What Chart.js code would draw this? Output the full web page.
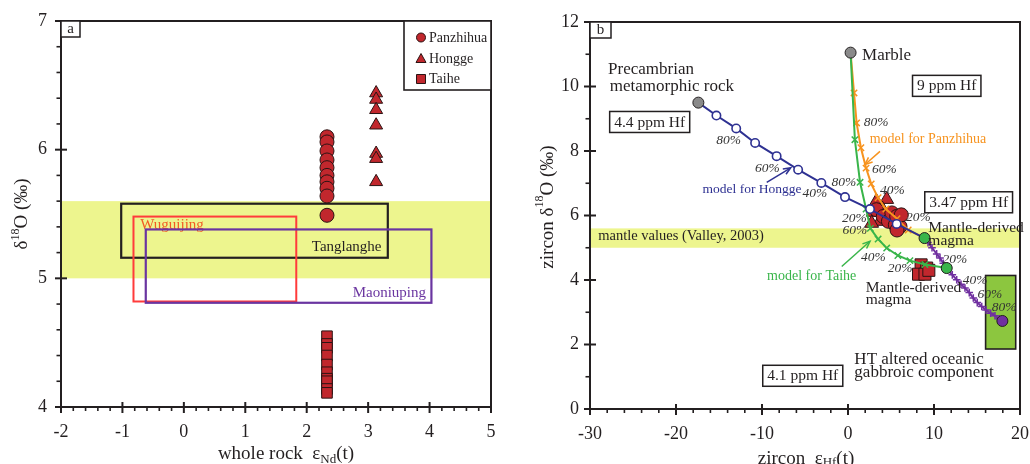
<!DOCTYPE html>
<html><head><meta charset="utf-8">
<script src="https://cdn.jsdelivr.net/npm/chart.js@4.4.1/dist/chart.umd.min.js"></script>
<style>
html,body{margin:0;padding:0;background:#fff;overflow:hidden;}
#ca{position:absolute;left:0;top:0;}
#cb{position:absolute;left:520px;top:0;}
</style></head><body>
<canvas id="ca" width="505" height="464"></canvas>
<canvas id="cb" width="510" height="464"></canvas>
<script>
// ================= Panel a data =================
const aXTicks = [-2, -1, 0, 1, 2, 3, 4, 5];
const aYTicks = [4, 5, 6, 7];
const aPanzhihuaX = [2.33, 2.33, 2.33, 2.33, 2.33, 2.33, 2.33, 2.33, 2.33, 2.33];
const aPanzhihuaY = [6.10, 6.06, 5.99, 5.92, 5.86, 5.80, 5.75, 5.70, 5.64, 5.49];
const aHonggeX = [3.13, 3.13, 3.13, 3.13, 3.13, 3.13, 3.13];
const aHonggeY = [6.44, 6.39, 6.31, 6.19, 5.97, 5.93, 5.75];
const aTaiheX = [2.33, 2.33, 2.33, 2.33, 2.33, 2.33, 2.33, 2.33, 2.33, 2.33];
const aTaiheY = [4.55, 4.49, 4.46, 4.40, 4.33, 4.27, 4.22, 4.20, 4.14, 4.11];
const aMantleBand = [5.0, 5.6];
// [x0, x1, y0, y1]
const aTanglangheBox = [-1.02, 3.32, 5.16, 5.58];
const aWuguijingBox = [-0.82, 1.83, 4.82, 5.48];
const aMaoniupingBox = [-0.62, 4.03, 4.81, 5.38];

// ================= Panel b data =================
const bXTicks = [-30, -20, -10, 0, 10, 20];
const bYTicks = [0, 2, 4, 6, 8, 10, 12];
const bMantleBand = [5.0, 5.6];
const bPanzhihuaX = [3.3, 4.1, 4.7, 5.1, 5.5, 5.66, 6.05, 6.2, 5.7];
const bPanzhihuaY = [6.18, 5.97, 5.82, 6.08, 5.71, 5.97, 5.66, 6.02, 5.55];
const bHonggeX = [3.3, 4.5, 2.95, 3.7, 2.75, 4.0];
const bHonggeY = [6.44, 6.50, 6.10, 5.82, 5.76, 6.20];
const bTaiheX = [8.5, 9.15, 8.2, 8.95, 9.4];
const bTaiheY = [4.47, 4.37, 4.18, 4.18, 4.30];
const bEndGrayX = [-17.4, 0.3];          // Precambrian rock, Marble
const bEndGrayY = [9.50, 11.05];
const bEndGreenX = [8.9, 11.48];         // Mantle-derived magma (two)
const bEndGreenY = [5.30, 4.37];
const bEndPurpleX = [17.95];             // HT altered gabbro
const bEndPurpleY = [2.73];
const bHonggeModelX = [-17.4, -15.3, -13.0, -10.8, -8.3, -5.8, -3.1, -0.35, 2.56, 5.66, 8.9];
const bHonggeModelY = [9.50, 9.10, 8.70, 8.25, 7.84, 7.42, 7.01, 6.57, 6.20, 5.74, 5.30];
const bPanzhihuaModelX = [0.3, 0.7, 1.0, 1.5, 2.1, 2.7, 3.5, 4.4, 5.7, 7.0, 8.9];
const bPanzhihuaModelY = [11.05, 9.80, 8.87, 8.10, 7.47, 6.98, 6.55, 6.20, 5.90, 5.55, 5.30];
const bTaiheModelX = [0.3, 0.8, 1.4, 2.1, 2.6, 3.5, 4.5, 5.8, 7.2, 8.95, 11.48];
const bTaiheModelY = [11.05, 8.35, 7.03, 6.20, 5.60, 5.27, 4.99, 4.76, 4.60, 4.48, 4.37];
const bGabbroModelX = [8.9, 9.3, 9.77, 10.31, 10.7, 11.08, 11.48, 12.13, 12.64, 13.14, 13.6, 14.1, 14.57, 15.03, 15.55, 16.05, 16.59, 17.09, 17.59, 17.95];
const bGabbroModelY = [5.30, 5.16, 5.00, 4.81, 4.68, 4.52, 4.37, 4.16, 4.01, 3.87, 3.75, 3.61, 3.44, 3.30, 3.18, 3.07, 2.97, 2.89, 2.80, 2.73];
const bHTBox = [16.0, 19.5, 1.86, 4.14];
const bPctText = ['80%', '60%', '40%', '20%'];
const bHonggePctX = [-13.87, -9.38, -3.84, 0.74];
const bHonggePctY = [8.32, 7.47, 6.67, 5.92];
const bPanzhihuaPctX = [3.26, 4.22, 5.15, 8.18];
const bPanzhihuaPctY = [8.90, 7.44, 6.78, 5.95];
const bTaihePctX = [-0.47, 0.81, 2.94, 6.05];
const bTaihePctY = [7.04, 5.53, 4.71, 4.37];
const bGabbroPctText = ['20%', '40%', '60%', '80%'];
const bGabbroPctX = [12.44, 14.77, 16.5, 18.14];
const bGabbroPctY = [4.65, 3.98, 3.54, 3.16];

// ================= styles =================
const SERIF = '"Liberation Serif","Times New Roman",serif';
const INK = '#231f20', RED = '#c1272d', EDGE = '#2a1414', BAND = '#edf58e';
const BLUE = '#2e3192', ORANGE = '#f7931e', GREEN = '#39b54a', PURPLE = '#7030a0';
const pts = (xs, ys) => xs.map((x, i) => ({x: x, y: ys[i]}));
const f = (s, style) => (style ? style + ' ' : '') + s + 'px ' + SERIF;

function drawRich(ctx, parts, x, y, align) {
  let w = 0;
  for (const p of parts) { ctx.font = p.font; w += ctx.measureText(p.t).width; }
  let cx = align === 'center' ? x - w / 2 : x;
  ctx.textAlign = 'left';
  for (const p of parts) { ctx.font = p.font; ctx.fillText(p.t, cx, y + (p.dy || 0)); cx += ctx.measureText(p.t).width; }
}
function txt(ctx, s, px, py, font, color, align, base) {
  ctx.font = font; ctx.fillStyle = color; ctx.textAlign = align || 'left';
  ctx.textBaseline = base || 'alphabetic'; ctx.fillText(s, px, py);
}
function drawTicks(ctx, ca, xs, ys, xMaj, xMin, yMaj, yMin) {
  ctx.strokeStyle = INK; ctx.lineCap = 'butt';
  const doAxis = (sc, maj, minStep, horiz) => {
    const n = Math.round((sc.max - sc.min) / minStep);
    for (let i = 0; i <= n; i++) {
      const v = sc.min + i * minStep;
      const isMaj = Math.abs(v / maj - Math.round(v / maj)) < 1e-6;
      const p = sc.getPixelForValue(v);
      ctx.lineWidth = isMaj ? 2 : 1.6;
      ctx.beginPath();
      if (horiz) {
        ctx.moveTo(p, ca.bottom - (isMaj ? 5 : 0)); ctx.lineTo(p, ca.bottom + (isMaj ? 6 : 4));
      } else {
        ctx.moveTo(ca.left - (isMaj ? 6 : 4.5), p); ctx.lineTo(ca.left + (isMaj ? 6 : 0), p);
      }
      ctx.stroke();
    }
  };
  doAxis(xs, xMaj, xMin, true);
  doAxis(ys, yMaj, yMin, false);
  ctx.lineWidth = 2; ctx.strokeRect(ca.left, ca.top, ca.right - ca.left, ca.bottom - ca.top);
}
function drawBox(ctx, xs, ys, b, color, lw, fill) {
  const x0 = xs.getPixelForValue(b[0]), x1 = xs.getPixelForValue(b[1]);
  const y0 = ys.getPixelForValue(b[3]), y1 = ys.getPixelForValue(b[2]);
  if (fill) { ctx.fillStyle = fill; ctx.fillRect(x0, y0, x1 - x0, y1 - y0); }
  ctx.strokeStyle = color; ctx.lineWidth = lw; ctx.strokeRect(x0, y0, x1 - x0, y1 - y0);
}
function panelTag(ctx, ca, letter, w) {
  ctx.fillStyle = '#fff'; ctx.fillRect(ca.left, ca.top, w, 16);
  ctx.strokeStyle = INK; ctx.lineWidth = 1.5; ctx.strokeRect(ca.left, ca.top, w, 16);
  txt(ctx, letter, ca.left + w / 2, ca.top + 8, f(15), INK, 'center', 'middle');
}
function scaleOpts(min, max, ticksArr, fit, horiz, pad) {
  return {
    type: 'linear', min: min, max: max,
    afterBuildTicks: s => { s.ticks = ticksArr.map(v => ({value: v})); },
    afterFit: s => {
      if (horiz) { s.height = fit; s.paddingLeft = 0; s.paddingRight = 0; }
      else { s.width = fit; s.paddingTop = 0; s.paddingBottom = 0; }
    },
    grid: {display: false, drawTicks: false}, border: {display: false},
    ticks: {font: {family: SERIF, size: 18}, color: INK, padding: pad, maxRotation: 0, autoSkip: false}
  };
}

// ================= Panel a =================
const panelA = {
  id: 'panelA',
  beforeDatasetsDraw(chart) {
    const {ctx, chartArea: ca} = chart; const xs = chart.scales.x, ys = chart.scales.y;
    ctx.save();
    const yt = ys.getPixelForValue(aMantleBand[1]), yb = ys.getPixelForValue(aMantleBand[0]);
    ctx.fillStyle = BAND; ctx.fillRect(ca.left, yt, ca.right - ca.left, yb - yt);
    drawBox(ctx, xs, ys, aTanglangheBox, INK, 2.2);
    txt(ctx, 'Tanglanghe', xs.getPixelForValue(2.65), ys.getPixelForValue(5.216), f(15), INK, 'center');
    drawBox(ctx, xs, ys, aWuguijingBox, '#ff3b3b', 2);
    txt(ctx, 'Wuguijing', xs.getPixelForValue(-0.71), ys.getPixelForValue(5.384), f(15), '#f15a24', 'left');
    drawBox(ctx, xs, ys, aMaoniupingBox, '#6a35a0', 2.2);
    txt(ctx, 'Maoniuping', xs.getPixelForValue(3.345), ys.getPixelForValue(4.858), f(15), '#6a35a0', 'center');
    ctx.restore();
  },
  afterDatasetsDraw(chart) {
    const {ctx, chartArea: ca} = chart; const xs = chart.scales.x, ys = chart.scales.y;
    ctx.save();
    drawTicks(ctx, ca, xs, ys, 1, 0.2, 1, 0.2);
    panelTag(ctx, ca, 'a', 19);
    // legend
    const lx = ca.right - 87, ly = ca.top;
    ctx.fillStyle = '#fff'; ctx.fillRect(lx, ly, 87, 69);
    ctx.strokeStyle = INK; ctx.lineWidth = 1.6; ctx.strokeRect(lx, ly, 87, 69);
    ctx.fillStyle = RED; ctx.strokeStyle = EDGE; ctx.lineWidth = 1;
    const mx = lx + 17;
    ctx.beginPath(); ctx.arc(mx, ly + 16.5, 4.5, 0, Math.PI * 2); ctx.fill(); ctx.stroke();
    ctx.beginPath(); ctx.moveTo(mx, ly + 32.5); ctx.lineTo(mx + 5, ly + 41.5); ctx.lineTo(mx - 5, ly + 41.5); ctx.closePath(); ctx.fill(); ctx.stroke();
    ctx.beginPath(); ctx.rect(mx - 4.5, ly + 53.5, 9, 9); ctx.fill(); ctx.stroke();
    txt(ctx, 'Panzhihua', mx + 8, ly + 21, f(14), INK, 'left');
    txt(ctx, 'Hongge', mx + 8, ly + 41.5, f(14), INK, 'left');
    txt(ctx, 'Taihe', mx + 8, ly + 62, f(14), INK, 'left');
    // axis titles
    ctx.fillStyle = INK;
    drawRich(ctx, [{t: 'whole rock  ε', font: f(19)}, {t: 'Nd', font: f(13), dy: 4}, {t: '(t)', font: f(19)}], 286, 459, 'center');
    ctx.translate(27, 214); ctx.rotate(-Math.PI / 2);
    drawRich(ctx, [{t: 'δ', font: f(19)}, {t: '18', font: f(12), dy: -8}, {t: 'O (‰)', font: f(19)}], 0, 0, 'center');
    ctx.restore();
  }
};

new Chart(document.getElementById('ca'), {
  type: 'scatter',
  data: {datasets: [
    {label: 'Panzhihua', data: pts(aPanzhihuaX, aPanzhihuaY), pointStyle: 'circle', pointRadius: 7, backgroundColor: RED, borderColor: EDGE, borderWidth: 1},
    {label: 'Hongge', data: pts(aHonggeX, aHonggeY), pointStyle: 'triangle', pointRadius: 7.5, backgroundColor: RED, borderColor: EDGE, borderWidth: 1},
    {label: 'Taihe', data: pts(aTaiheX, aTaiheY), pointStyle: 'rect', pointRadius: 7.5, backgroundColor: RED, borderColor: EDGE, borderWidth: 1}
  ]},
  options: {
    responsive: false, animation: false, devicePixelRatio: 1,
    layout: {padding: {left: 0, right: 14, top: 21, bottom: 0}},
    plugins: {legend: {display: false}, tooltip: {enabled: false}},
    scales: {x: scaleOpts(-2, 5, aXTicks, 57, true, 14), y: scaleOpts(4, 7, aYTicks, 61, false, 14)}
  },
  plugins: [panelA]
});

// ================= Panel b =================
function arrow(ctx, xs, ys, a, b, color) {
  const x0 = xs.getPixelForValue(a[0]), y0 = ys.getPixelForValue(a[1]);
  const x1 = xs.getPixelForValue(b[0]), y1 = ys.getPixelForValue(b[1]);
  const ang = Math.atan2(y1 - y0, x1 - x0);
  ctx.strokeStyle = color; ctx.lineWidth = 1.5;
  ctx.beginPath(); ctx.moveTo(x0, y0); ctx.lineTo(x1, y1); ctx.stroke();
  ctx.beginPath();
  ctx.moveTo(x1 - 8 * Math.cos(ang - 0.4), y1 - 8 * Math.sin(ang - 0.4));
  ctx.lineTo(x1, y1);
  ctx.lineTo(x1 - 8 * Math.cos(ang + 0.4), y1 - 8 * Math.sin(ang + 0.4));
  ctx.stroke();
}
function boxedLabel(ctx, xs, ys, s, xv, yv) {
  const px = xs.getPixelForValue(xv), py = ys.getPixelForValue(yv);
  ctx.font = f(15.5); const w = ctx.measureText(s).width + 9;
  ctx.fillStyle = '#fff'; ctx.fillRect(px - w / 2, py - 10.5, w, 21);
  ctx.strokeStyle = INK; ctx.lineWidth = 1.5; ctx.strokeRect(px - w / 2, py - 10.5, w, 21);
  txt(ctx, s, px, py + 0.5, f(15.5), INK, 'center', 'middle');
}
function pctLabels(ctx, xs, ys, labels, xv, yv) {
  for (let i = 0; i < labels.length; i++)
    txt(ctx, labels[i], xs.getPixelForValue(xv[i]), ys.getPixelForValue(yv[i]), f(13.5, 'italic'), '#333', 'center', 'middle');
}
const panelB = {
  id: 'panelB',
  beforeDatasetsDraw(chart) {
    const {ctx, chartArea: ca} = chart; const xs = chart.scales.x, ys = chart.scales.y;
    ctx.save();
    const yt = ys.getPixelForValue(bMantleBand[1]), yb = ys.getPixelForValue(bMantleBand[0]);
    ctx.fillStyle = BAND; ctx.fillRect(ca.left, yt, ca.right - ca.left, yb - yt);
    txt(ctx, 'mantle values (Valley, 2003)', xs.getPixelForValue(-29.05), ys.getPixelForValue(5.25), f(14.5), INK, 'left');
    drawBox(ctx, xs, ys, bHTBox, INK, 1.6, '#8cc63f');
    ctx.restore();
  },
  afterDatasetsDraw(chart) {
    const {ctx, chartArea: ca} = chart; const xs = chart.scales.x, ys = chart.scales.y;
    const X = v => xs.getPixelForValue(v), Y = v => ys.getPixelForValue(v);
    ctx.save();
    pctLabels(ctx, xs, ys, bPctText, bHonggePctX, bHonggePctY);
    pctLabels(ctx, xs, ys, bPctText, bPanzhihuaPctX, bPanzhihuaPctY);
    pctLabels(ctx, xs, ys, bPctText, bTaihePctX, bTaihePctY);
    pctLabels(ctx, xs, ys, bGabbroPctText, bGabbroPctX, bGabbroPctY);
    txt(ctx, 'Marble', X(1.63), Y(10.82), f(17), INK, 'left');
    txt(ctx, 'Precambrian', X(-27.9), Y(10.40), f(17), INK, 'left');
    txt(ctx, 'metamorphic rock', X(-27.7), Y(9.85), f(17), INK, 'left');
    txt(ctx, 'Mantle-derived', X(9.34), Y(5.49), f(15.5), INK, 'left');
    txt(ctx, 'magma', X(9.34), Y(5.10), f(15.5), INK, 'left');
    txt(ctx, 'Mantle-derived', X(2.06), Y(3.64), f(15.5), INK, 'left');
    txt(ctx, 'magma', X(2.06), Y(3.25), f(15.5), INK, 'left');
    txt(ctx, 'HT altered oceanic', X(0.74), Y(1.41), f(17), INK, 'left');
    txt(ctx, 'gabbroic component', X(0.74), Y(0.99), f(17), INK, 'left');
    txt(ctx, 'model for Hongge', X(-11.16), Y(6.71), f(13.5), BLUE, 'center');
    txt(ctx, 'model for Panzhihua', X(9.3), Y(8.26), f(14), ORANGE, 'center');
    txt(ctx, 'model for Taihe', X(-4.22), Y(4.0), f(14), GREEN, 'center');
    arrow(ctx, xs, ys, [-9.45, 7.03], [-6.66, 7.48], BLUE);
    arrow(ctx, xs, ys, [3.72, 7.99], [1.98, 7.58], ORANGE);
    arrow(ctx, xs, ys, [-0.73, 4.42], [2.56, 5.2], GREEN);
    boxedLabel(ctx, xs, ys, '9 ppm Hf', 11.48, 10.02);
    boxedLabel(ctx, xs, ys, '4.4 ppm Hf', -23.06, 8.9);
    boxedLabel(ctx, xs, ys, '3.47 ppm Hf', 14.03, 6.41);
    boxedLabel(ctx, xs, ys, '4.1 ppm Hf', -5.26, 1.03);
    drawTicks(ctx, ca, xs, ys, 10, 2, 2, 1);
    panelTag(ctx, ca, 'b', 21);
    ctx.fillStyle = INK;
    drawRich(ctx, [{t: 'zircon  ε', font: f(19)}, {t: 'Hf', font: f(13), dy: 4}, {t: '(t)', font: f(19)}], 806 - 520, 459, 'center');
    ctx.translate(548 - 520, 207); ctx.rotate(-Math.PI / 2);
    drawRich(ctx, [{t: 'zircon δ', font: f(19)}, {t: '18', font: f(12), dy: -8}, {t: 'O (‰)', font: f(19)}], 0, 0, 'center');
    ctx.restore();
  }
};

const endR = (n) => Array.from({length: n}, (_, i) => (i === 0 || i === n - 1) ? 0 : 4.5);
new Chart(document.getElementById('cb'), {
  type: 'scatter',
  data: {datasets: [
    {label: 'Taihe', data: pts(bTaiheX, bTaiheY), pointStyle: 'rect', pointRadius: 8.5, backgroundColor: RED, borderColor: EDGE, borderWidth: 1, order: 12},
    {label: 'Hongge', data: pts(bHonggeX, bHonggeY), pointStyle: 'triangle', pointRadius: 8, backgroundColor: RED, borderColor: EDGE, borderWidth: 1, order: 11},
    {label: 'Panzhihua', data: pts(bPanzhihuaX, bPanzhihuaY), pointStyle: 'circle', pointRadius: 7, backgroundColor: RED, borderColor: EDGE, borderWidth: 1, order: 10},
    {label: 'gabbro mixing', data: pts(bGabbroModelX, bGabbroModelY), showLine: true, borderColor: PURPLE, borderWidth: 2,
      pointStyle: 'cross', pointRadius: bGabbroModelX.map((v, i) => (i === 0 || i === 6 || i === bGabbroModelX.length - 1) ? 0 : 3.8),
      pointBorderColor: PURPLE, pointBorderWidth: 1.5, order: 7},
    {label: 'model for Panzhihua', data: pts(bPanzhihuaModelX, bPanzhihuaModelY), showLine: true, borderColor: ORANGE, borderWidth: 2,
      pointStyle: 'crossRot', pointRadius: endR(bPanzhihuaModelX.length), pointBorderColor: ORANGE, pointBorderWidth: 1.5, order: 6},
    {label: 'model for Taihe', data: pts(bTaiheModelX, bTaiheModelY), showLine: true, borderColor: GREEN, borderWidth: 2,
      pointStyle: 'crossRot', pointRadius: endR(bTaiheModelX.length), pointBorderColor: GREEN, pointBorderWidth: 1.5, order: 5},
    {label: 'model for Hongge', data: pts(bHonggeModelX, bHonggeModelY), showLine: true, borderColor: BLUE, borderWidth: 2,
      pointStyle: 'circle', pointRadius: endR(bHonggeModelX.length).map(r => r ? 4.2 : 0), pointBackgroundColor: '#fff',
      pointBorderColor: BLUE, pointBorderWidth: 1.6, order: 4},
    {label: 'end gray', data: pts(bEndGrayX, bEndGrayY), pointRadius: 5.5, backgroundColor: '#8a8a8a', borderColor: INK, borderWidth: 1, order: 2},
    {label: 'end green', data: pts(bEndGreenX, bEndGreenY), pointRadius: 5.5, backgroundColor: GREEN, borderColor: INK, borderWidth: 1, order: 2},
    {label: 'end purple', data: pts(bEndPurpleX, bEndPurpleY), pointRadius: 5.5, backgroundColor: PURPLE, borderColor: INK, borderWidth: 1, order: 2}
  ]},
  options: {
    responsive: false, animation: false, devicePixelRatio: 1,
    layout: {padding: {left: 0, right: 10, top: 22, bottom: 0}},
    plugins: {legend: {display: false}, tooltip: {enabled: false}},
    scales: {x: scaleOpts(-30, 20, bXTicks, 55, true, 14), y: scaleOpts(0, 12, bYTicks, 70, false, 11)}
  },
  plugins: [panelB]
});
</script>
</body></html>
